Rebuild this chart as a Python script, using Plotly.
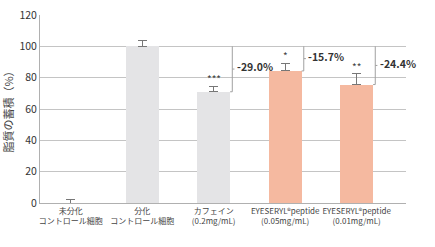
import plotly.graph_objects as go

categories = ["未分化<br>コントロール細胞", "分化<br>コントロール細胞", "カフェイン<br>(0.2mg/mL)",
              "EYESERYL®peptide<br>(0.05mg/mL)", "EYESERYL®peptide<br>(0.01mg/mL)"]
values = [0.0, 100.0, 71.0, 84.3, 75.6]
errors = [2.4, 3.8, 3.5, 5.0, 7.0]
stars = ["", "", "***", "*", "**"]
bar_colors = ["#e4e4e6", "#e4e4e6", "#e4e4e6", "#f5b9a0", "#f5b9a0"]
reductions = ["-29.0%", "-15.7%", "-24.4%"]
reduction_idx = [2, 3, 4]
reference_value = 100.0

FONT = "Noto Sans CJK JP"
BW = 0.46

fig = go.Figure()
fig.add_trace(go.Bar(
    x=list(range(len(categories))), y=values, width=BW,
    marker=dict(color=bar_colors, line=dict(width=0)),
    error_y=dict(type="data", array=errors, arrayminus=[0]*len(errors), symmetric=False,
                 color="#777777", thickness=1, width=4.5),
    showlegend=False,
))

for i, s in enumerate(stars):
    if s:
        fig.add_annotation(x=i, y=values[i] + errors[i], text=s, showarrow=False,
                           yanchor="bottom", yshift=-2, font=dict(size=10, color="#444", family=FONT))

for lab, i in zip(reductions, reduction_idx):
    xb = i + BW / 2 + 0.03
    v = values[i]
    mid = (reference_value + v) / 2
    lc = dict(color="#a0a0a0", width=1)
    fig.add_shape(type="line", x0=xb, x1=xb, y0=v, y1=reference_value, line=lc)
    fig.add_shape(type="line", x0=i + BW / 2, x1=xb, y0=v, y1=v, line=lc)
    fig.add_shape(type="line", x0=xb, x1=xb + 0.03, y0=mid, y1=mid, line=lc)
    fig.add_annotation(x=xb + 0.035, y=mid + 1.5, text=f"<b>{lab}</b>", showarrow=False,
                       xanchor="left", yanchor="middle", font=dict(size=10.5, color="#333", family=FONT))

fig.update_layout(
    width=435, height=247, margin=dict(l=40, r=29, t=15, b=44, autoexpand=False),
    paper_bgcolor="white", plot_bgcolor="white",
    font=dict(family=FONT, color="#333"),
    xaxis=dict(tickmode="array", tickvals=list(range(len(categories))), ticktext=categories,
               range=[-0.43, 4.69], showgrid=False, showline=True, linecolor="#b0b0b0", linewidth=1,
               ticks="", tickangle=0, automargin=False,
               tickfont=dict(size=8, color="#444", family=FONT), zeroline=False),
    yaxis=dict(range=[0, 120], dtick=20, showgrid=True, gridcolor="#c4c4c4", gridwidth=1,
               showline=True, linecolor="#b0b0b0", linewidth=1, ticks="", zeroline=False,
               automargin=False,
               tickfont=dict(size=10.5, color="#333", family=FONT),
               title=dict(text="脂質の蓄積（%）", font=dict(size=11, color="#444", family=FONT), standoff=8)),
    bargap=0,
)

fig.write_html("out.html")
